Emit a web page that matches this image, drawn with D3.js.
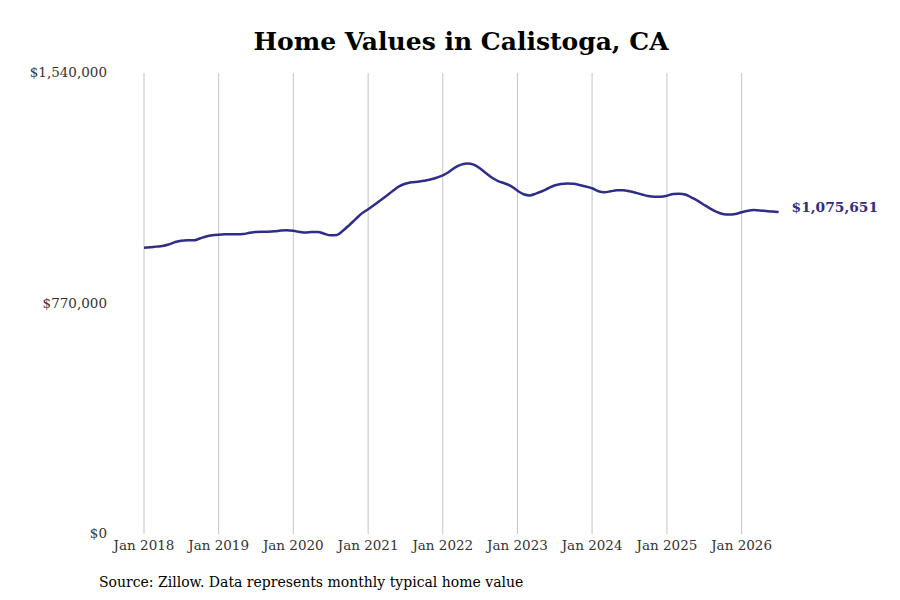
<!DOCTYPE html>
<html>
<head>
<meta charset="utf-8">
<script src="https://cdn.jsdelivr.net/npm/d3@7"></script>
<style>
	body { margin: 0; background: white; }
	text { font-family: "DejaVu Serif", serif; }
</style>
</head>
<body>
<div id="chart"></div>
<script>
// monthly typical home value, Jan 2018 onwards
let startMonth = '2018-01';
let homeValues = [
	956000, 958000, 960000, 962000, 967000, 975000, 980000, 981000, 981000, 987000, 994000, 998000,
	1000000, 1001000, 1001000, 1001000, 1002000, 1006000, 1009000, 1010000, 1010000, 1011000, 1014000, 1015000,
	1013000, 1009000, 1007000, 1009000, 1009000, 1003000, 998000, 999000, 1014000, 1032000, 1052000, 1071000,
	1085000, 1100000, 1114000, 1130000, 1146000, 1161000, 1170000, 1175000, 1177000, 1180000, 1184000, 1190000,
	1198000, 1210000, 1224000, 1234000, 1238000, 1234000, 1222000, 1205000, 1189000, 1178000, 1171000, 1162000,
	1147000, 1135000, 1131000, 1137000, 1145000, 1155000, 1164000, 1169000, 1171000, 1170000, 1166000, 1161000,
	1155000, 1145000, 1142000, 1145000, 1148000, 1148000, 1145000, 1140000, 1134000, 1129000, 1127000, 1127000,
	1130000, 1136000, 1137000, 1134000, 1124000, 1113000, 1100000, 1087000, 1076000, 1069000, 1067000, 1069000,
	1075000, 1080000, 1082000, 1081000, 1079000, 1077000, 1075651
];
let yTicks = [0, 770000, 1540000];
let xTickYears = [2018, 2019, 2020, 2021, 2022, 2023, 2024, 2025, 2026];

let width = 900,
	height = 600,
	margin = {
		top: 73,
		bottom: 66,
		left: 144,
		right: 158
	};

let parseMonth = d3.timeParse('%Y-%m');
let start = parseMonth(startMonth);
let data = homeValues.map((v, i) => ({ date: d3.timeMonth.offset(start, i), value: v }));

let svg = d3.select('#chart')
	.append('svg')
	.attr('width', width)
	.attr('height', height)
	.style('background', 'white');

let x = d3.scaleTime()
	.domain([new Date(2018, 0, 1), new Date(2026, 0, 1)])
	.range([margin.left, 741.6]);

let y = d3.scaleLinear()
	.domain([0, 1540000])
	.range([height - margin.bottom, margin.top]);

let fmt = d3.format('$,');

// vertical grid
svg.append('g')
	.selectAll('line')
	.data(xTickYears)
	.join('line')
	.attr('x1', d => x(new Date(d, 0, 1)))
	.attr('x2', d => x(new Date(d, 0, 1)))
	.attr('y1', y(1540000))
	.attr('y2', y(0))
	.style('stroke', '#c4c4c4')
	.style('stroke-width', 1);

// x labels
svg.append('g')
	.selectAll('text')
	.data(xTickYears)
	.join('text')
	.attr('x', d => x(new Date(d, 0, 1)))
	.attr('y', y(0) + 16)
	.attr('text-anchor', 'middle')
	.style('fill', '#333')
	.style('font-size', '13.5px')
	.text(d => 'Jan ' + d);

// y labels
svg.append('g')
	.selectAll('text')
	.data(yTicks)
	.join('text')
	.attr('x', 107)
	.attr('y', d => y(d))
	.attr('dy', '0.32em')
	.attr('text-anchor', 'end')
	.style('fill', '#333')
	.style('font-size', '13.5px')
	.text(d => fmt(d));

let line = d3.line()
	.x(d => x(d.date))
	.y(d => y(d.value))
	.curve(d3.curveMonotoneX);

svg.append('path')
	.datum(data)
	.attr('d', line)
	.style('fill', 'none')
	.style('stroke', '#2e2d88')
	.style('stroke-width', 2.5);

let last = data[data.length - 1];
svg.append('text')
	.attr('x', x(last.date) + 13)
	.attr('y', y(last.value) - 4)
	.attr('dy', '0.32em')
	.style('fill', '#2e2d88')
	.style('font-weight', 'bold')
	.style('font-size', '13.8px')
	.text(fmt(last.value));

svg.append('text')
	.attr('x', 461)
	.attr('y', 50)
	.attr('text-anchor', 'middle')
	.style('fill', 'black')
	.style('font-weight', 'bold')
	.style('font-size', '25px')
	.text('Home Values in Calistoga, CA');

svg.append('text')
	.attr('x', 99)
	.attr('y', 587)
	.style('fill', 'black')
	.style('font-size', '14px')
	.text('Source: Zillow. Data represents monthly typical home value');
</script>
</body>
</html>
